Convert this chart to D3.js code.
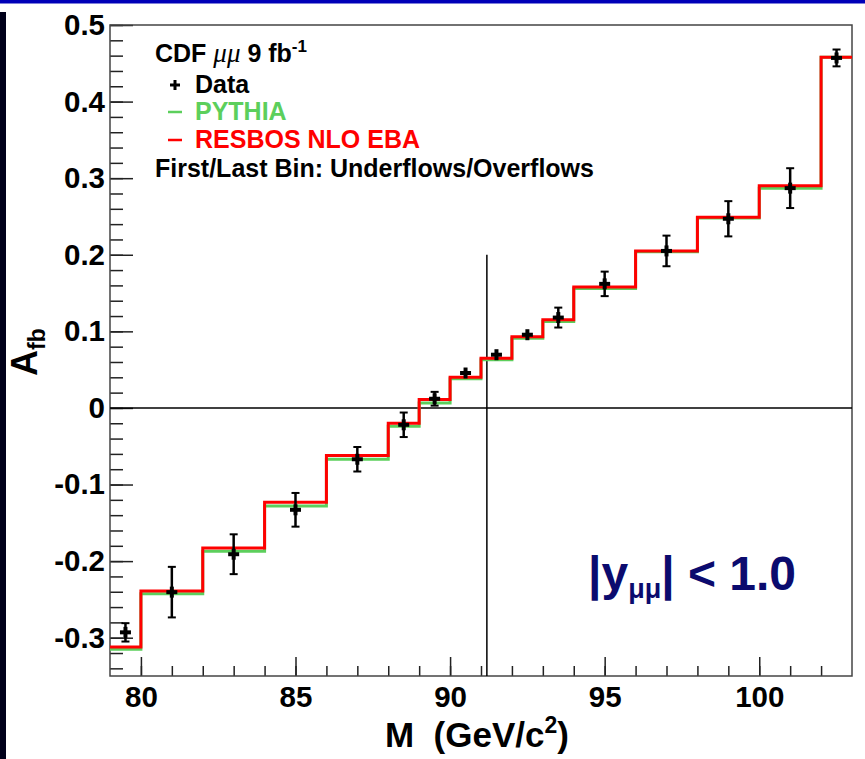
<!DOCTYPE html>
<html lang="en">
<head>
    <meta charset="UTF-8">
    <title>CDF A_fb vs M</title>
    <script src="https://cdnjs.cloudflare.com/ajax/libs/d3/7.8.5/d3.min.js"></script>
    <style>
        body {
            margin: 0;
            padding: 0;
            background-color: white;
        }
        svg text {
            font-family: "Liberation Sans", Arial, Helvetica, sans-serif;
            font-weight: bold;
        }
    </style>
</head>
<body>
    <div id="chart"></div>

    <script>
        // bin edges (GeV/c^2), first and last bins hold under/overflows
        const binEdges = [79, 80, 82, 84, 86, 88, 89, 90, 91, 92, 93, 94, 96, 98, 100, 102, 103];

        // predictions per bin
        const pythiaValues = [-0.315, -0.2425, -0.187, -0.128, -0.067, -0.024, 0.0065, 0.038, 0.063, 0.091, 0.113, 0.156, 0.204, 0.248, 0.287, 0.458];
        const resbosValues = [-0.312, -0.239, -0.183, -0.123, -0.062, -0.020, 0.011, 0.040, 0.065, 0.093, 0.115, 0.158, 0.205, 0.249, 0.290, 0.458];

        // measured points
        const dataMass = [79.5, 81, 83, 85, 87, 88.5, 89.5, 90.5, 91.5, 92.5, 93.5, 95, 97, 99, 101, 102.5];
        const dataAfb = [-0.293, -0.2405, -0.191, -0.133, -0.067, -0.022, 0.012, 0.0456, 0.0695, 0.0956, 0.118, 0.162, 0.205, 0.247, 0.287, 0.457];
        const dataErr = [0.012, 0.033, 0.026, 0.022, 0.016, 0.016, 0.009, 0.004, 0.004, 0.004, 0.013, 0.016, 0.020, 0.023, 0.026, 0.011];

        const xTicks = [80, 85, 90, 95, 100];
        const yTicks = [-0.3, -0.2, -0.1, 0, 0.1, 0.2, 0.3, 0.4, 0.5];
        const zMass = 91.19;

        const width = 865;
        const height = 759;
        const plotLeft = 110, plotRight = 852, plotTop = 25, plotBottom = 676;

        const svg = d3.select("#chart")
            .append("svg")
            .attr("width", width)
            .attr("height", height);

        // slide border bits
        svg.append("rect").attr("x", 0).attr("y", 0).attr("width", width).attr("height", 3.5).attr("fill", "#0000b8");
        svg.append("rect").attr("x", 0).attr("y", 12).attr("width", 6).attr("height", height - 12).attr("fill", "#00001a");

        const x = d3.scaleLinear().domain([79, 103]).range([plotLeft, plotRight]);
        const y = d3.scaleLinear().domain([-0.35, 0.5]).range([plotBottom, plotTop]);

        // minor ticks
        const xMinor = d3.range(80, 103, 1);
        const yMinor = d3.range(-34, 51, 2).map(v => v / 100);

        svg.append("g")
            .attr("transform", `translate(0,${plotBottom})`)
            .call(d3.axisBottom(x).tickValues(xMinor).tickSize(-10).tickFormat(""))
            .call(g => g.select(".domain").remove())
            .selectAll("line").attr("stroke", "#222").attr("stroke-width", 1.5);

        svg.append("g")
            .attr("transform", `translate(${plotLeft},0)`)
            .call(d3.axisLeft(y).tickValues(yMinor).tickSize(-13).tickFormat(""))
            .call(g => g.select(".domain").remove())
            .selectAll("line").attr("stroke", "#222").attr("stroke-width", 1.5);

        // major ticks + labels
        const xAxis = svg.append("g")
            .attr("transform", `translate(0,${plotBottom})`)
            .call(d3.axisBottom(x).tickValues(xTicks).tickSize(-19).tickPadding(10).tickFormat(d3.format("d")));
        xAxis.select(".domain").remove();
        xAxis.selectAll("line").attr("stroke", "#222").attr("stroke-width", 1.5);
        xAxis.selectAll("text").attr("font-size", 29.5).attr("fill", "black");

        const yFmt = d => d === 0 ? "0" : d3.format(".1f")(d).replace("\u2212", "-");
        const yAxis = svg.append("g")
            .attr("transform", `translate(${plotLeft},0)`)
            .call(d3.axisLeft(y).tickValues(yTicks).tickSize(-23).tickPadding(5).tickFormat(yFmt));
        yAxis.select(".domain").remove();
        yAxis.selectAll("line").attr("stroke", "#222").attr("stroke-width", 1.5);
        yAxis.selectAll("text").attr("font-size", 29.5).attr("fill", "black");

        // frame
        svg.append("rect")
            .attr("x", plotLeft).attr("y", plotTop)
            .attr("width", plotRight - plotLeft).attr("height", plotBottom - plotTop)
            .attr("fill", "none").attr("stroke", "#444").attr("stroke-width", 1.5);

        // reference lines
        svg.append("line")
            .attr("x1", x(79)).attr("x2", x(103))
            .attr("y1", y(0)).attr("y2", y(0))
            .attr("stroke", "black").attr("stroke-width", 1.5);
        svg.append("line")
            .attr("x1", x(zMass)).attr("x2", x(zMass))
            .attr("y1", y(0.2)).attr("y2", y(-0.35))
            .attr("stroke", "black").attr("stroke-width", 1.5);

        // step histograms
        const step = d3.line()
            .x(d => x(d[0]))
            .y(d => y(d[1]))
            .curve(d3.curveStepAfter);

        function histPoints(values) {
            const pts = values.map((v, i) => [binEdges[i], v]);
            pts.push([binEdges[binEdges.length - 1], values[values.length - 1]]);
            return pts;
        }

        svg.append("path")
            .attr("d", step(histPoints(pythiaValues)))
            .attr("fill", "none").attr("stroke", "#5ccf5c").attr("stroke-width", 3);

        svg.append("path")
            .attr("d", step(histPoints(resbosValues)))
            .attr("fill", "none").attr("stroke", "#ff0000").attr("stroke-width", 3);

        // data points
        const pts = dataMass.map((m, i) => ({m: m, a: dataAfb[i], e: dataErr[i]}));
        const pg = svg.append("g").attr("stroke", "black");

        pg.selectAll(".err")
            .data(pts).join("line")
            .attr("x1", d => x(d.m)).attr("x2", d => x(d.m))
            .attr("y1", d => y(d.a + d.e)).attr("y2", d => y(d.a - d.e))
            .attr("stroke-width", 2.5);

        [1, -1].forEach(s => {
            pg.selectAll(null)
                .data(pts.filter(d => d.e > 0.006)).join("line")
                .attr("x1", d => x(d.m) - 4).attr("x2", d => x(d.m) + 4)
                .attr("y1", d => y(d.a + s * d.e)).attr("y2", d => y(d.a + s * d.e))
                .attr("stroke-width", 2);
        });

        pg.selectAll(".mh")
            .data(pts).join("line")
            .attr("x1", d => x(d.m) - 5.5).attr("x2", d => x(d.m) + 5.5)
            .attr("y1", d => y(d.a)).attr("y2", d => y(d.a))
            .attr("stroke-width", 4);
        pg.selectAll(".mv")
            .data(pts).join("line")
            .attr("x1", d => x(d.m)).attr("x2", d => x(d.m))
            .attr("y1", d => y(d.a) - 5.5).attr("y2", d => y(d.a) + 5.5)
            .attr("stroke-width", 4);

        // axis titles
        const xt = svg.append("text")
            .attr("x", 385).attr("y", 747)
            .attr("font-size", 35).attr("fill", "black")
            .attr("xml:space", "preserve");
        xt.append("tspan").text("M  (GeV/c");
        xt.append("tspan").attr("font-size", 23).attr("dy", -14).text("2");
        xt.append("tspan").attr("dy", 14).text(")");

        const yt = svg.append("text")
            .attr("transform", "translate(37,376) rotate(-90)")
            .attr("font-size", 36).attr("fill", "black");
        yt.append("tspan").text("A");
        yt.append("tspan").attr("font-size", 23).attr("dy", 8).text("fb");

        // legend
        const lg = svg.append("g").attr("font-size", 25);
        const head = lg.append("text").attr("x", 155).attr("y", 62).attr("fill", "black");
        head.append("tspan").text("CDF ");
        head.append("tspan")
            .attr("font-family", "'Liberation Serif', 'Times New Roman', serif")
            .attr("font-style", "italic").attr("font-weight", "normal")
            .attr("font-size", 27)
            .text("\u03bc\u03bc");
        head.append("tspan").text(" 9 fb");
        head.append("tspan").attr("font-size", 17).attr("dy", -10).text("-1");

        lg.append("line").attr("x1", 170).attr("x2", 180).attr("y1", 85).attr("y2", 85).attr("stroke", "black").attr("stroke-width", 3);
        lg.append("line").attr("x1", 175).attr("x2", 175).attr("y1", 80).attr("y2", 90).attr("stroke", "black").attr("stroke-width", 3);
        lg.append("text").attr("x", 195).attr("y", 93).attr("fill", "black").text("Data");

        lg.append("line").attr("x1", 168).attr("x2", 182).attr("y1", 112).attr("y2", 112).attr("stroke", "#5ccf5c").attr("stroke-width", 2.5);
        lg.append("text").attr("x", 195).attr("y", 120).attr("fill", "#5ccf5c").text("PYTHIA");

        lg.append("line").attr("x1", 168).attr("x2", 182).attr("y1", 140).attr("y2", 140).attr("stroke", "#ff0000").attr("stroke-width", 2.5);
        lg.append("text").attr("x", 195).attr("y", 148).attr("fill", "#ff0000").text("RESBOS NLO EBA");

        lg.append("text").attr("x", 155).attr("y", 177).attr("fill", "black").text("First/Last Bin: Underflows/Overflows");

        // rapidity cut label
        const cut = svg.append("text")
            .attr("x", 588).attr("y", 590)
            .attr("font-size", 48).attr("fill", "#0b0b6e");
        cut.append("tspan").text("|y");
        cut.append("tspan").attr("font-size", 27).attr("dy", 8).text("\u03bc\u03bc");
        cut.append("tspan").attr("dy", -8).text("| < 1.0");
    </script>
</body>
</html>
